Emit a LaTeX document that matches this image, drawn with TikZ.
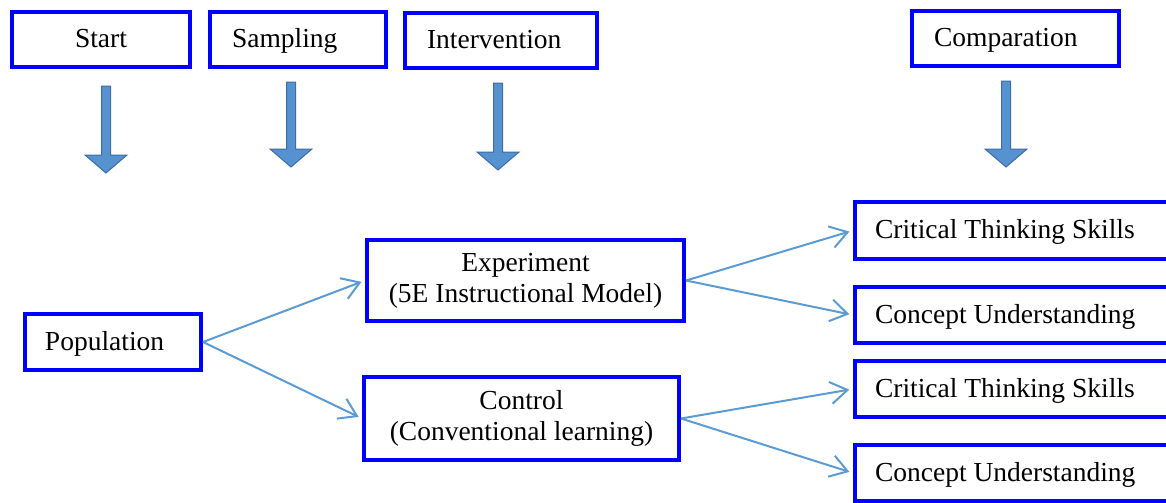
\documentclass[tikz,border=0pt]{standalone}
\usepackage{fontspec}
\setmainfont{Liberation Serif}
\usetikzlibrary{arrows.meta,positioning}
\definecolor{boxblue}{RGB}{0,0,255}
\definecolor{linkblue}{RGB}{91,155,213}
\definecolor{blkfill}{RGB}{86,145,208}
\definecolor{blkedge}{RGB}{62,108,165}
\tikzset{
  stage/.style={draw=boxblue,line width=1.6pt,fill=white,inner sep=2pt,
    font=\fontsize{11}{12.5}\selectfont,align=center},
  one/.style={stage,align=flush left,inner xsep=8.8pt,text height=8.6pt,text depth=2pt},
  head/.style={one,minimum height=22pt},
  res/.style={one,inner xsep=8pt,text width=110pt,minimum height=22.6pt},
  ar/.style={-{Straight Barb[length=6.8pt,width=8.8pt]},draw=linkblue,
    line width=0.8pt,shorten >=1.5pt},
  blk/.style={fill=blkfill,draw=blkedge,line width=0.4pt},
}

\begin{document}
\begin{tikzpicture}[x=0.4pt,y=-0.4pt]
  \useasboundingbox (0,0) rectangle (1166,502);
  \clip (0,0) rectangle (1166,502);
  % steps along the top
  \node[head,align=flush center,text width=53.6pt] (start) at (101,39.5) {Start};
  \node[head,text width=52.8pt] (samp)  at (298,39.5) {Sampling};
  \node[head,text width=59.2pt] (intv)  at (501,40)   {Intervention};
  \node[head,text width=65.2pt] (comp)  at (1015.5,38.5) {Comparation};
  \foreach \x/\ya/\yb in {106/86/173, 291/82/167, 498/83/170, 1006/81/167}
    \draw[blk] (\x-4.5,\ya) -- (\x+4.5,\ya) -- (\x+4.5,\yb-18) -- (\x+21,\yb-18)
      -- (\x,\yb) -- (\x-21,\yb-18) -- (\x-4.5,\yb-18) -- cycle;
  % groups
  \node[one,inner xsep=8pt,text width=54.4pt,minimum height=22.4pt] (pop) at (113,342) {Population};
  \node[stage,minimum width=126.8pt,minimum height=32.4pt] (exp) at (525.5,280.5)
     {Experiment\\(5E Instructional Model)};
  \node[stage,minimum width=126pt,minimum height=33.2pt] (ctl) at (521.5,418.5)
     {Control\\(Conventional learning)};
  % outcomes
  \node[res] (ctsA) at (1012.5,230.5) {Critical Thinking Skills};
  \node[res] (cuA)  at (1012.5,315)   {Concept Understanding};
  \node[res] (ctsB) at (1012.5,389)   {Critical Thinking Skills};
  \node[res] (cuB)  at (1012.5,473)   {Concept Understanding};
  \draw[ar] (pop.east) -- (exp.west);
  \draw[ar] (pop.east) -- (ctl.west);
  \draw[ar] (exp.east) -- (ctsA.west);
  \draw[ar] (exp.east) -- (cuA.west);
  \draw[ar] (ctl.east) -- (ctsB.west);
  \draw[ar] (ctl.east) -- (cuB.west);
\end{tikzpicture}
\end{document}
